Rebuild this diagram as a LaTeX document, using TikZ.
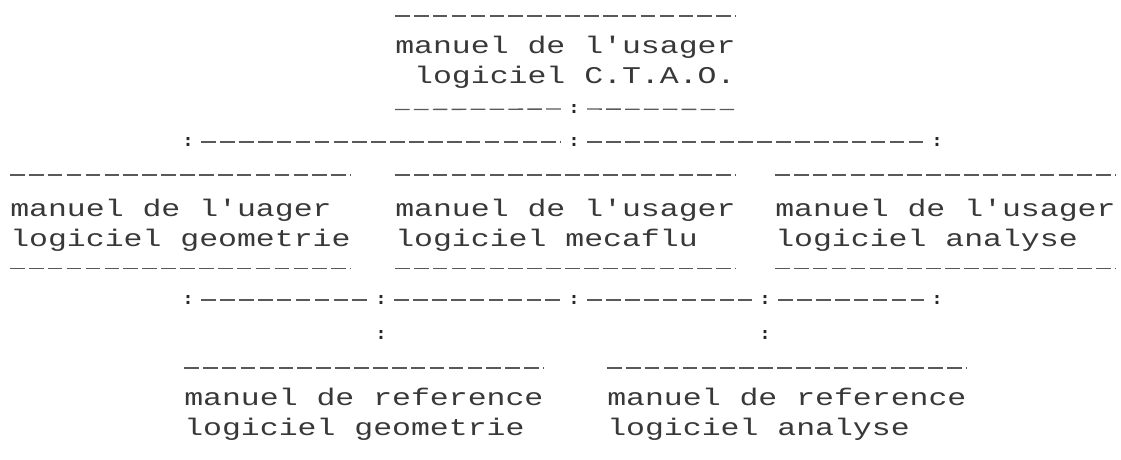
\documentclass[tikz,border=0pt]{standalone}
\usepackage{fontspec}
\newfontfamily\dotfont[FakeStretch=1.3125]{Liberation Mono}
\newfontfamily\colfont{DejaVu Sans Mono}
\usetikzlibrary{positioning, calc}

\begin{document}
\begin{tikzpicture}[x=0.75pt, y=-0.75pt,
    rule/.style={draw=black!65, line width=1pt, dash pattern=on 11pt off 3.175pt},
    manbox/.style={font=\dotfont\fontsize{18}{22.5}\selectfont, text=black!78, align=left,
      anchor=north west, inner sep=0pt, minimum width=#1, minimum height=69.75pt,
      text height=34.75pt, text depth=4pt},
    toprule/.style={append after command={(\tikzlastnode.north west) edge[rule] (\tikzlastnode.north east)}},
    botrule/.style={append after command={(\tikzlastnode.south west) edge[rule] (\tikzlastnode.south east)}},
    junc/.style={font=\colfont\bfseries\fontsize{13}{13}\selectfont, text=black!85, inner sep=0pt, outer xsep=6pt}]
    % Fix the page size
    \useasboundingbox (0,0) rectangle (1121,460);
    % Top manual
    \node[manbox=255.15pt, toprule] (ctao) at (395,16) {manuel de l'usager\\~logiciel C.T.A.O.};
    \node[junc] (c0) at (574,109) {:};
    \draw[rule] (ctao.south west) -- (c0);
    \draw[rule] (c0) -- (ctao.south east);
    % User manuals
    \node[manbox=255.15pt, toprule, botrule, text height=40.75pt] (geom) at (10,175) {manuel de l'uager\\logiciel geometrie};
    \node[manbox=255.15pt, toprule, botrule, text height=40.75pt] (meca) at (395,175) {manuel de l'usager\\logiciel mecaflu};
    \node[manbox=255.15pt, toprule, botrule, text height=40.75pt] (anal) at (775,175) {manuel de l'usager\\logiciel analyse};
    % Reference manuals
    \node[manbox=269.3pt, toprule] (refgeom) at (184,368) {manuel de reference\\logiciel geometrie};
    \node[manbox=269.3pt, toprule] (refanal) at (607,368) {manuel de reference\\logiciel analyse};
    % Junctions
    \node[junc] (j1) at (188,142) {:};
    \node[junc] (j2) at (574,142) {:};
    \node[junc] (j3) at (937,142) {:};
    \node[junc] (k1) at (188,300) {:};
    \node[junc] (k2) at (381,300) {:};
    \node[junc] (k3) at (574,300) {:};
    \node[junc] (k4) at (765,300) {:};
    \node[junc] (k5) at (937,300) {:};
    \node[junc] (m1) at (381,335) {:};
    \node[junc] (m2) at (765,335) {:};
    % Connectors
    \draw[rule] (j1) -- (j2);
    \draw[rule] (j2) -- (j3);
    \draw[rule] (k1) -- (k2);
    \draw[rule] (k2) -- (k3);
    \draw[rule] (k3) -- (k4);
    \draw[rule] (k4) -- (k5);
\end{tikzpicture}
\end{document}
